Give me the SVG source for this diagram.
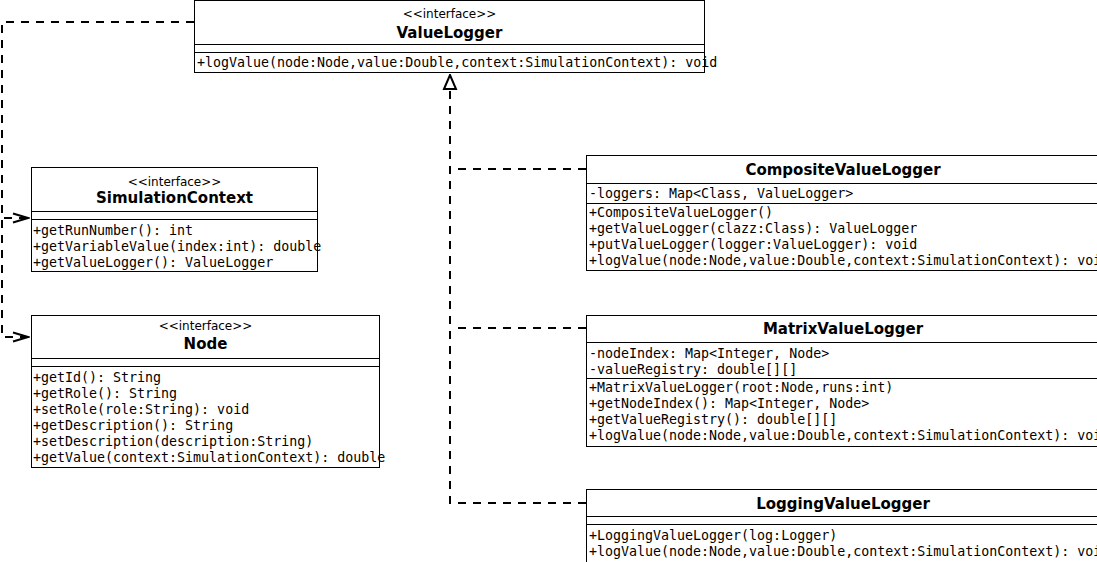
<svg xmlns="http://www.w3.org/2000/svg" width="1097" height="562" viewBox="0 0 1097 562">
  <style>
    .box { fill: #fff; stroke: #000; stroke-width: 1; }
    .sep { stroke: #000; stroke-width: 1; }
    .stereo { font-family: "DejaVu Sans", "Noto Sans", sans-serif; font-size: 12px; text-anchor: middle; fill: #000; }
    .name { font-family: "DejaVu Sans", "Noto Sans", sans-serif; font-size: 15px; font-weight: bold; text-anchor: middle; fill: #000; }
    .member { font-family: "DejaVu Sans Mono", "Liberation Mono", monospace; font-size: 13.3px; fill: #000; }
    .edge { fill: none; stroke: #000; stroke-width: 2; stroke-dasharray: 8 7; }
  </style>
  <defs>
    <marker id="openArrow" markerUnits="userSpaceOnUse" markerWidth="18" markerHeight="12" viewBox="0 0 18 12" refX="16" refY="6" orient="auto">
      <path d="M1,1.5 L16,6 L1,10.5" fill="none" stroke="#000" stroke-width="2" stroke-dasharray="none"/>
    </marker>
    <marker id="hollowTriangle" markerUnits="userSpaceOnUse" markerWidth="16" markerHeight="16" viewBox="0 0 16 16" refX="15" refY="8" orient="auto">
      <path d="M1,2 L15,8 L1,14 Z" fill="#fff" stroke="#000" stroke-width="2" stroke-dasharray="none"/>
    </marker>
  </defs>

  <!-- connectors -->
  <g id="connectors">
    <!-- ValueLogger uses SimulationContext and Node -->
    <path class="edge" d="M194,22 H2 V218 H28" marker-end="url(#openArrow)"/>
    <path class="edge" d="M194,22 H2 V337 H28" marker-end="url(#openArrow)"/>
    <!-- implementations of ValueLogger -->
    <path class="edge" d="M586,169 H451"/>
    <path class="edge" d="M586,328 H451"/>
    <path class="edge" d="M586,503 H450 V75" marker-end="url(#hollowTriangle)"/>
  </g>

  <!-- ValueLogger -->
  <g id="ValueLogger">
    <rect class="box" x="194.5" y="0.5" width="510" height="72"/>
    <text class="stereo" x="449.5" y="17.5">&lt;&lt;interface&gt;&gt;</text>
    <text class="name" x="449.5" y="37.5">ValueLogger</text>
    <line class="sep" x1="194.5" y1="44.5" x2="704.5" y2="44.5"/>
    <line class="sep" x1="194.5" y1="52.5" x2="704.5" y2="52.5"/>
    <text class="member" x="197" y="66.5">+logValue(node:Node,value:Double,context:SimulationContext): void</text>
  </g>

  <!-- SimulationContext -->
  <g id="SimulationContext">
    <rect class="box" x="31.5" y="167.5" width="286" height="104"/>
    <text class="stereo" x="174.5" y="185.5">&lt;&lt;interface&gt;&gt;</text>
    <text class="name" x="174.5" y="202.5">SimulationContext</text>
    <line class="sep" x1="31.5" y1="211.5" x2="317.5" y2="211.5"/>
    <line class="sep" x1="31.5" y1="219.5" x2="317.5" y2="219.5"/>
    <text class="member" x="33" y="234.5">+getRunNumber(): int</text>
    <text class="member" x="33" y="250.5">+getVariableValue(index:int): double</text>
    <text class="member" x="33" y="266.5">+getValueLogger(): ValueLogger</text>
  </g>

  <!-- Node -->
  <g id="Node">
    <rect class="box" x="31.5" y="315.5" width="348" height="152"/>
    <text class="stereo" x="205.5" y="329.5">&lt;&lt;interface&gt;&gt;</text>
    <text class="name" x="205.5" y="348.5">Node</text>
    <line class="sep" x1="31.5" y1="358.5" x2="379.5" y2="358.5"/>
    <line class="sep" x1="31.5" y1="366.5" x2="379.5" y2="366.5"/>
    <text class="member" x="33" y="381.5">+getId(): String</text>
    <text class="member" x="33" y="397.5">+getRole(): String</text>
    <text class="member" x="33" y="413.5">+setRole(role:String): void</text>
    <text class="member" x="33" y="429.5">+getDescription(): String</text>
    <text class="member" x="33" y="445.5">+setDescription(description:String)</text>
    <text class="member" x="33" y="461.5">+getValue(context:SimulationContext): double</text>
  </g>

  <!-- CompositeValueLogger -->
  <g id="CompositeValueLogger">
    <rect class="box" x="586.5" y="155.5" width="513" height="115"/>
    <text class="name" x="843" y="174.5">CompositeValueLogger</text>
    <line class="sep" x1="586.5" y1="183.5" x2="1099.5" y2="183.5"/>
    <text class="member" x="589" y="198">-loggers: Map&lt;Class, ValueLogger&gt;</text>
    <line class="sep" x1="586.5" y1="203.5" x2="1099.5" y2="203.5"/>
    <text class="member" x="589" y="216.5">+CompositeValueLogger()</text>
    <text class="member" x="589" y="232.5">+getValueLogger(clazz:Class): ValueLogger</text>
    <text class="member" x="589" y="248.5">+putValueLogger(logger:ValueLogger): void</text>
    <text class="member" x="589" y="264.5">+logValue(node:Node,value:Double,context:SimulationContext): void</text>
  </g>

  <!-- MatrixValueLogger -->
  <g id="MatrixValueLogger">
    <rect class="box" x="586.5" y="315.5" width="513" height="131"/>
    <text class="name" x="843" y="333.5">MatrixValueLogger</text>
    <line class="sep" x1="586.5" y1="342.5" x2="1099.5" y2="342.5"/>
    <text class="member" x="589" y="357.5">-nodeIndex: Map&lt;Integer, Node&gt;</text>
    <text class="member" x="589" y="373.5">-valueRegistry: double[][]</text>
    <line class="sep" x1="586.5" y1="378.5" x2="1099.5" y2="378.5"/>
    <text class="member" x="589" y="391.5">+MatrixValueLogger(root:Node,runs:int)</text>
    <text class="member" x="589" y="407.5">+getNodeIndex(): Map&lt;Integer, Node&gt;</text>
    <text class="member" x="589" y="423.5">+getValueRegistry(): double[][]</text>
    <text class="member" x="589" y="439.5">+logValue(node:Node,value:Double,context:SimulationContext): void</text>
  </g>

  <!-- LoggingValueLogger -->
  <g id="LoggingValueLogger">
    <rect class="box" x="586.5" y="489.5" width="513" height="80"/>
    <text class="name" x="843" y="508.5">LoggingValueLogger</text>
    <line class="sep" x1="586.5" y1="516.5" x2="1099.5" y2="516.5"/>
    <line class="sep" x1="586.5" y1="524.5" x2="1099.5" y2="524.5"/>
    <text class="member" x="589" y="539.5">+LoggingValueLogger(log:Logger)</text>
    <text class="member" x="589" y="555.5">+logValue(node:Node,value:Double,context:SimulationContext): void</text>
  </g>
</svg>
